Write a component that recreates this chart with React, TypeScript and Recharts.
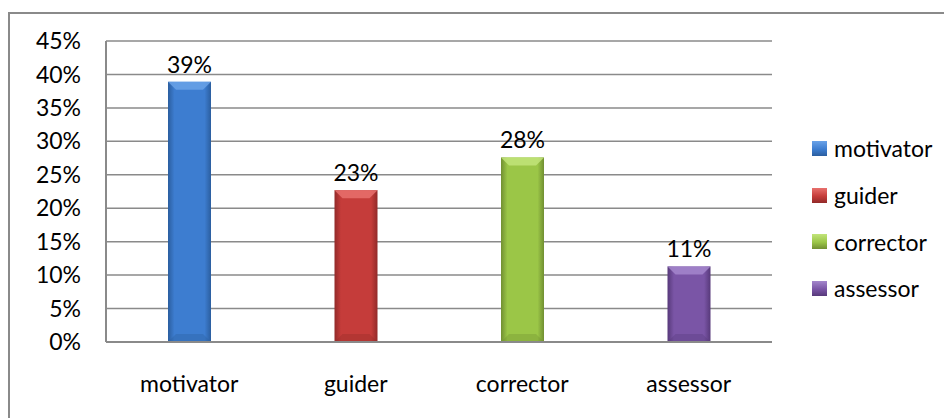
import { BarChart, Bar, XAxis, YAxis, CartesianGrid, Cell, LabelList, Legend } from "recharts";

const roles = ["motivator", "guider", "corrector", "assessor"];
const shares = [38.9, 22.7, 27.6, 11.3];
const yTicks = [0, 5, 10, 15, 20, 25, 30, 35, 40, 45];

// base, light, dark per role (Excel 2007 bevel look)
const palette = [
  { base: "#3d7dd0", light: "#6aa2e8", dark: "#2b5e9f" },
  { base: "#c53c3a", light: "#e8706d", dark: "#922a29" },
  { base: "#9bc647", light: "#c2e47a", dark: "#718f32" },
  { base: "#7a55a6", light: "#a487cc", dark: "#57397a" },
];

const data = roles.map((role, i) => ({ role, share: shares[i] }));

const FONT = "Lato, 'Open Sans', sans-serif";
const FS = 23;

function BevelBar(props: any) {
  const { x, y, width, height, index } = props;
  if (height <= 0) return null;
  const b = Math.min(8, width / 5);
  return (
    <g>
      <rect x={x} y={y} width={width} height={height} fill={`url(#grad${index})`} />
      <polygon
        points={`${x},${y} ${x + width},${y} ${x + width - b},${y + b} ${x + b},${y + b}`}
        fill={palette[index].light}
        opacity={0.85}
      />
      <polygon
        points={`${x},${y + height} ${x + width},${y + height} ${x + width - b},${y + height - b} ${x + b},${y + height - b}`}
        fill={palette[index].dark}
        opacity={0.35}
      />
    </g>
  );
}

function RoleLegend() {
  return (
    <div style={{ fontFamily: FONT, fontSize: FS, color: "#000" }}>
      {roles.map((r, i) => (
        <div key={r} style={{ display: "flex", alignItems: "center", height: 46.7 }}>
          <span
            style={{
              display: "inline-block",
              width: 15,
              height: 15,
              marginRight: 7,
              background: `linear-gradient(180deg, ${palette[i].light}, ${palette[i].base} 55%, ${palette[i].dark})`,
            }}
          />
          <span>{r}</span>
        </div>
      ))}
    </div>
  );
}

export default function App() {
  return (
    <div style={{ position: "relative", width: 944, height: 410, overflow: "hidden" }}>
      <div
        style={{
          position: "absolute",
          left: 0,
          top: 4,
          width: 1000,
          height: 500,
          border: "2px solid #8a8a8a",
          boxSizing: "border-box",
        }}
      />
      <div style={{ position: "absolute", left: 0, top: 0 }}>
        <BarChart
          width={944}
          height={410}
          data={data}
          margin={{ top: 33, right: 40, bottom: 0, left: 0 }}
          style={{ fontFamily: FONT }}
        >
          <defs>
            {palette.map((p, i) => (
              <linearGradient key={i} id={`grad${i}`} x1="0" y1="0" x2="1" y2="0">
                <stop offset="0%" stopColor={p.dark} />
                <stop offset="15%" stopColor={p.base} />
                <stop offset="85%" stopColor={p.base} />
                <stop offset="100%" stopColor={p.dark} />
              </linearGradient>
            ))}
          </defs>
          <CartesianGrid vertical={false} stroke="#8a8a8a" strokeWidth={1.5} />
          <XAxis
            dataKey="role"
            height={76}
            tickLine={false}
            axisLine={{ stroke: "#8a8a8a", strokeWidth: 2 }}
            tick={{ fill: "#000", fontSize: FS }}
            tickMargin={28}
          />
          <YAxis
            width={98}
            domain={[0, 45]}
            ticks={yTicks}
            interval={0}
            tickLine={false}
            axisLine={{ stroke: "#8a8a8a", strokeWidth: 2 }}
            tickFormatter={(v) => `${v}%`}
            tick={{ fill: "#000", fontSize: FS }}
            tickMargin={19}
          />
          <Legend
            layout="horizontal"
            verticalAlign="middle"
            align="right"
            content={<RoleLegend />}
            wrapperStyle={{ left: 804, top: 117, width: 140 }}
          />
          <Bar dataKey="share" barSize={43} isAnimationActive={false} shape={<BevelBar />}>
            {data.map((d, i) => (
              <Cell key={d.role} fill={palette[i].base} />
            ))}
            <LabelList
              dataKey="share"
              position="top"
              offset={9}
              formatter={(v: any) => `${Math.round(v)}%`}
              style={{ fill: "#000", fontSize: FS }}
            />
          </Bar>
        </BarChart>
      </div>
    </div>
  );
}
